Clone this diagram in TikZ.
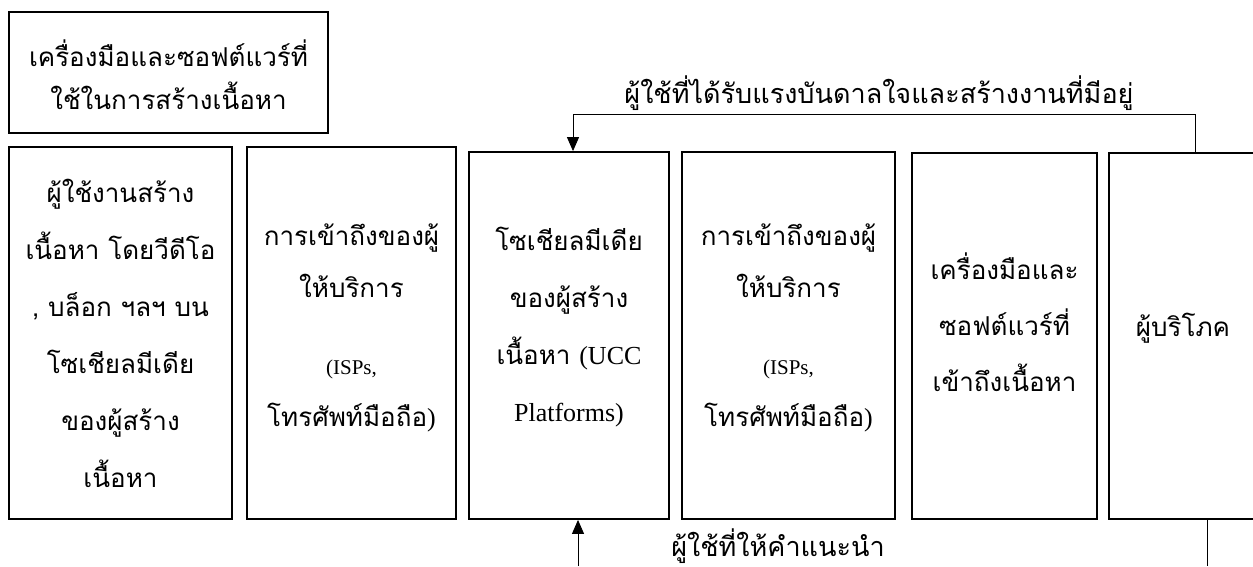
\documentclass[tikz,border=0pt]{standalone}
\usepackage{fontspec}
\setmainfont{Liberation Serif}
\newfontfamily\thaifont[Script=Thai]{Loma}
\usetikzlibrary{arrows.meta,calc}
\newcommand\lat[1]{{\rmfamily #1}}
\begin{document}
\begin{tikzpicture}[x=1pt,y=-1pt,
  box/.style={draw, line width=1.8pt, inner sep=0pt},
  txt/.style={inner sep=0pt, align=center,
    font=\thaifont\fontsize{26}{57}\selectfont},
  conn/.style={line width=0.9pt},
  arr/.style={conn,-{Triangle[width=12pt,length=14pt]}},
  lbl/.style={font=\thaifont\fontsize{27}{30}\selectfont, inner sep=0pt}]
\useasboundingbox (0,0) rectangle (1253,566);
% boxes
\node[box, minimum width=319pt, minimum height=121pt] (b0) at (168.5,72.5) {};
\node[box, minimum width=223pt, minimum height=372pt] (b1) at (120.5,333) {};
\node[box, minimum width=209pt, minimum height=372pt] (b2) at (351.5,333) {};
\node[box, minimum width=200pt, minimum height=367pt] (b3) at (569,335.5) {};
\node[box, minimum width=213pt, minimum height=367pt] (b4) at (788.5,335.5) {};
\node[box, minimum width=185pt, minimum height=366pt] (b5) at (1004.5,336) {};
\node[box, minimum width=148pt, minimum height=366pt] (b6) at (1183,336) {};
% texts
\node[txt, font=\thaifont\fontsize{26}{43}\selectfont] (b0t) at ($(b0.center)+(0,2)$)
  {เครื่องมือและซอฟต์แวร์ที่\\ใช้ในการสร้างเนื้อหา};
\node[txt] (b1t) at (b1.center)
  {ผู้ใช้งานสร้าง\\เนื้อหา โดยวีดีโอ\\, บล็อก ฯลฯ บน\\โซเชียลมีเดีย\\ของผู้สร้าง\\เนื้อหา};
\node[txt, font=\thaifont\fontsize{26}{52}\selectfont] (b2t) at ($(b2.center)+(0,-5)$)
  {การเข้าถึงของผู้\\ให้บริการ\\[25pt]\lat{\fontsize{21}{52}\selectfont(ISPs,}\\โทรศัพท์มือถือ\lat{)}};
\node[txt] (b3t) at ($(b3.center)+(0,-8)$)
  {โซเชียลมีเดีย\\ของผู้สร้าง\\เนื้อหา \lat{(UCC}\\\lat{Platforms)}};
\node[txt, font=\thaifont\fontsize{26}{52}\selectfont] (b4t) at ($(b4.center)+(0,-8)$)
  {การเข้าถึงของผู้\\ให้บริการ\\[25pt]\lat{\fontsize{21}{52}\selectfont(ISPs,}\\โทรศัพท์มือถือ\lat{)}};
\node[txt, font=\thaifont\fontsize{26}{56}\selectfont] (b5t) at ($(b5.center)+(0,-14)$)
  {เครื่องมือและ\\ซอฟต์แวร์ที่\\เข้าถึงเนื้อหา};
\node[txt] (b6t) at ($(b6.center)+(0,-8)$) {ผู้บริโภค};
% connectors
\coordinate (t1) at (1195,114);
\coordinate (t2) at (573,114);
\draw[arr] (t1 |- b6.north) -- (t1) -- (t2) -- (t2 |- b3.north);
\node[lbl] (l1) at (879,93) {ผู้ใช้ที่ได้รับแรงบันดาลใจและสร้างงานที่มีอยู่};
\coordinate (u1) at (578,566);
\draw[arr] (u1) -- (u1 |- b3.south);
\coordinate (u2) at (1207,566);
\draw[conn] (u2 |- b6.south) -- (u2);
\node[lbl] (l2) at (778,546) {ผู้ใช้ที่ให้คำแนะนำ};
\end{tikzpicture}
\end{document}
